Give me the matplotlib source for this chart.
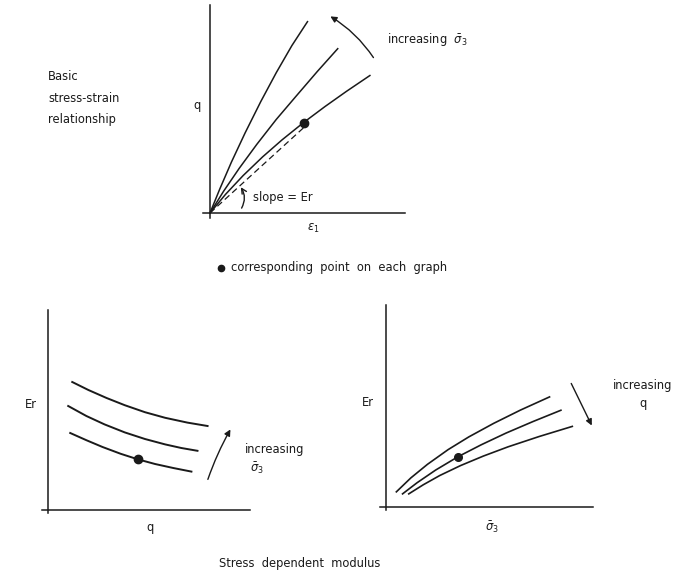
import matplotlib
matplotlib.use('Agg')
from matplotlib import pyplot as plt
from matplotlib.patches import FancyArrowPatch

W, H = 680, 576
INK = '#1a1a1a'
SIG3 = r'$\bar{\sigma}_3$'

# basic stress-strain curves (q against axial strain), one per confining stress
strain_1 = [0, 0.5, 1.1, 1.8, 2.6, 3.4, 4.2, 5.0]
q_1 = [0, 1.15, 2.45, 3.85, 5.35, 6.75, 8.05, 9.2]
strain_2 = [0, 0.7, 1.5, 2.4, 3.4, 4.4, 5.5, 6.55]
q_2 = [0, 1.05, 2.15, 3.3, 4.5, 5.6, 6.8, 7.9]
strain_3 = [0, 0.8, 1.7, 2.7, 3.7, 4.8, 5.9, 7.0, 8.2]
q_3 = [0, 0.9, 1.8, 2.7, 3.52, 4.35, 5.12, 5.85, 6.61]
point_strain, point_q = 4.8, 4.35

# resilient modulus against deviator stress
qa_x = [1.2, 2.0, 2.9, 3.8, 4.8, 5.8, 6.9, 7.9]
qa_y = [6.4, 6.0, 5.6, 5.24, 4.89, 4.61, 4.37, 4.2]
qb_x = [1.0, 1.9, 2.8, 3.8, 4.8, 5.8, 6.6, 7.4]
qb_y = [5.2, 4.7, 4.28, 3.88, 3.55, 3.28, 3.1, 2.96]
qc_x = [1.1, 1.9, 2.7, 3.6, 4.46, 5.3, 6.2, 7.1]
qc_y = [3.85, 3.49, 3.15, 2.81, 2.53, 2.3, 2.1, 1.92]
q_point = (4.46, 2.53)

# resilient modulus against confining stress
sa_x = [0.5, 1.2, 2.0, 3.0, 4.0, 5.2, 6.5, 7.9]
sa_y = [0.75, 1.44, 2.11, 2.84, 3.47, 4.14, 4.8, 5.45]
sb_x = [0.8, 1.5, 2.4, 3.48, 4.6, 5.8, 7.1, 8.45]
sb_y = [0.65, 1.2, 1.83, 2.49, 3.08, 3.66, 4.23, 4.79]
sc_x = [1.1, 1.8, 2.6, 3.6, 4.7, 5.9, 7.4, 9.0]
sc_y = [0.65, 1.1, 1.56, 2.05, 2.52, 2.98, 3.49, 3.99]
s_point = (3.48, 2.49)


def place(fig, ox, oy, sx, sy, xlim, ylim):
    # axes whose data origin sits at pixel (ox, oy), sx/sy pixels per unit
    left = (ox + xlim[0] * sx) / W
    bottom = (H - (oy - ylim[0] * sy)) / H
    width = (xlim[1] - xlim[0]) * sx / W
    height = (ylim[1] - ylim[0]) * sy / H
    ax = fig.add_axes([left, bottom, width, height])
    ax.set_xlim(*xlim)
    ax.set_ylim(*ylim)
    ax.patch.set_alpha(0)
    for side in ('top', 'right'):
        ax.spines[side].set_visible(False)
    ax.spines['left'].set_position(('data', 0))
    ax.spines['bottom'].set_position(('data', 0))
    for side in ('left', 'bottom'):
        ax.spines[side].set_color(INK)
        ax.spines[side].set_linewidth(1.1)
    ax.set_xticks([])
    ax.set_yticks([])
    return ax


def arrow(ax, start, end, rad=0.0, head='-|>'):
    ax.add_patch(FancyArrowPatch(start, end, arrowstyle=head, mutation_scale=9,
                                 connectionstyle=f'arc3,rad={rad}', color=INK,
                                 lw=1.0, clip_on=False))


fig = plt.figure(figsize=(W / 100, H / 100), dpi=100)

# overlay in pixel units for the free text
txt = fig.add_axes([0, 0, 1, 1])
txt.set_xlim(0, W)
txt.set_ylim(H, 0)
txt.axis('off')

kw = dict(fontsize=8.3, color=INK)

# top: basic stress-strain relationship
ax = place(fig, 210, 213, 19.5, 20.8, (-0.35, 10), (-0.25, 10))
for x, y in [(strain_1, q_1), (strain_2, q_2), (strain_3, q_3)]:
    ax.plot(x, y, color=INK, lw=1.1)
ax.plot([0, point_strain], [0, point_q - 0.25], color=INK, lw=0.9, ls=(0, (5, 3)))
ax.plot(point_strain, point_q, 'o', color=INK, ms=6)
arrow(ax, (8.46, 7.36), (6.05, 9.52), rad=0.12)
arrow(ax, (1.55, 0.12), (1.5, 1.35), rad=0.35, head='->')

txt.text(48, 77, 'Basic', va='center', **kw)
txt.text(48, 99, 'stress-strain', va='center', **kw)
txt.text(48, 119, 'relationship', va='center', **kw)
txt.text(197, 105, 'q', ha='center', va='center', **kw)
txt.text(313, 228, r'$\epsilon_1$', ha='center', va='center', **kw)
txt.text(253, 197, 'slope = Er', va='center', **kw)
txt.text(387, 40, 'increasing  ' + SIG3, va='center', **kw)
txt.plot(221, 268, 'o', color=INK, ms=4.5)
txt.text(231, 268, 'corresponding  point  on  each  graph', va='center', **kw)

# bottom left: Er against q
ax = place(fig, 48, 510, 20.2, 20.0, (-0.3, 10), (-0.15, 10))
for x, y in [(qa_x, qa_y), (qb_x, qb_y), (qc_x, qc_y)]:
    ax.plot(x, y, color=INK, lw=1.4)
ax.plot(*q_point, 'o', color=INK, ms=6)
arrow(ax, (7.87, 1.4), (9.1, 4.15), rad=-0.05)

txt.text(31, 405, 'Er', ha='center', va='center', **kw)
txt.text(150, 528, 'q', ha='center', va='center', **kw)
txt.text(245, 450, 'increasing', va='center', **kw)
txt.text(250, 468, SIG3, va='center', **kw)

# bottom right: Er against confining stress
ax = place(fig, 386, 507, 20.7, 20.2, (-0.3, 10), (-0.15, 10))
for x, y in [(sa_x, sa_y), (sb_x, sb_y), (sc_x, sc_y)]:
    ax.plot(x, y, color=INK, lw=1.2)
ax.plot(*s_point, 'o', color=INK, ms=5.5)
arrow(ax, (8.89, 6.24), (10.0, 3.91))

txt.text(368, 403, 'Er', ha='center', va='center', **kw)
txt.text(492, 527, SIG3, ha='center', va='center', **kw)
txt.text(643, 386, 'increasing', ha='center', va='center', **kw)
txt.text(643, 403, 'q', ha='center', va='center', **kw)

txt.text(300, 563, 'Stress  dependent  modulus', ha='center', va='center', **kw)

fig.savefig('out.png', dpi=100)
